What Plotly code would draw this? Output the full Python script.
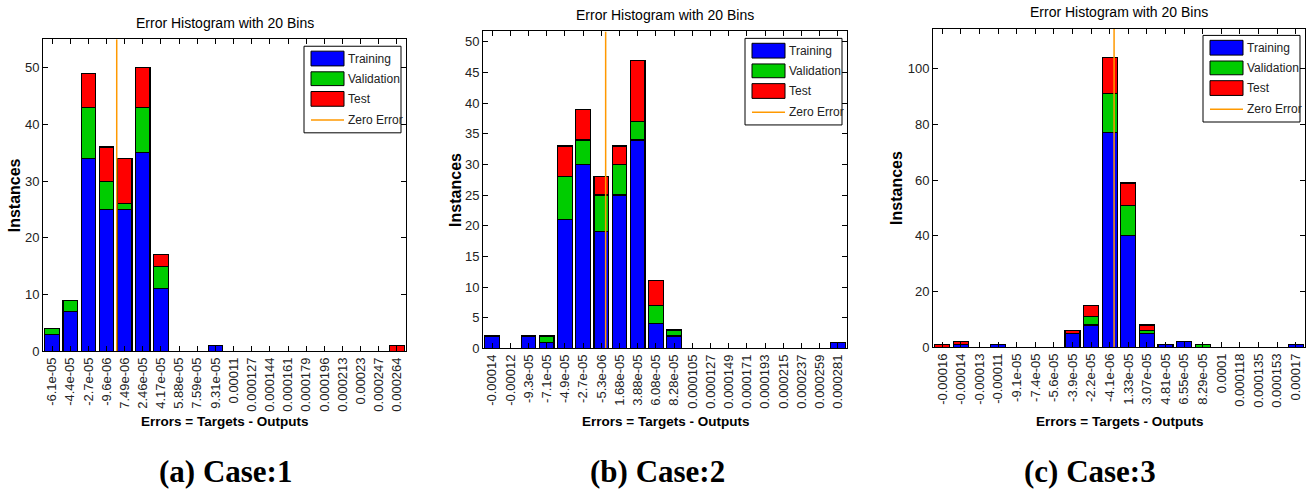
import numpy as np
import plotly.graph_objects as go

W, H = 1309, 496

# ---- data: bin centres (as printed) and per-bin instance counts ----
case1_labels = ["-6.1e-05", "-4.4e-05", "-2.7e-05", "-9.6e-06", "7.49e-06", "2.46e-05",
                "4.17e-05", "5.88e-05", "7.59e-05", "9.31e-05", "0.00011", "0.000127",
                "0.000144", "0.000161", "0.000179", "0.000196", "0.000213", "0.00023",
                "0.000247", "0.000264"]
case1_training = [3, 7, 34, 25, 25, 35, 11, 0, 0, 1, 0, 0, 0, 0, 0, 0, 0, 0, 0, 0]
case1_validation = [1, 2, 9, 5, 1, 8, 4, 0, 0, 0, 0, 0, 0, 0, 0, 0, 0, 0, 0, 0]
case1_test = [0, 0, 6, 6, 8, 7, 2, 0, 0, 0, 0, 0, 0, 0, 0, 0, 0, 0, 0, 1]

case2_labels = ["-0.00014", "-0.00012", "-9.3e-05", "-7.1e-05", "-4.9e-05", "-2.7e-05",
                "-5.3e-06", "1.68e-05", "3.88e-05", "6.08e-05", "8.28e-05", "0.000105",
                "0.000127", "0.000149", "0.000171", "0.000193", "0.000215", "0.000237",
                "0.000259", "0.000281"]
case2_training = [2, 0, 2, 1, 21, 30, 19, 25, 34, 4, 2, 0, 0, 0, 0, 0, 0, 0, 0, 1]
case2_validation = [0, 0, 0, 1, 7, 4, 6, 5, 3, 3, 1, 0, 0, 0, 0, 0, 0, 0, 0, 0]
case2_test = [0, 0, 0, 0, 5, 5, 3, 3, 10, 4, 0, 0, 0, 0, 0, 0, 0, 0, 0, 0]

case3_labels = ["-0.00016", "-0.00014", "-0.00013", "-0.00011", "-9.1e-05", "-7.4e-05",
                "-5.6e-05", "-3.9e-05", "-2.2e-05", "-4.1e-06", "1.33e-05", "3.07e-05",
                "4.81e-05", "6.55e-05", "8.29e-05", "0.0001", "0.000118", "0.000135",
                "0.000153", "0.00017"]
case3_training = [0, 1, 0, 1, 0, 0, 0, 5, 8, 77, 40, 5, 1, 2, 0, 0, 0, 0, 0, 1]
case3_validation = [0, 0, 0, 0, 0, 0, 0, 0, 3, 14, 11, 1, 0, 0, 1, 0, 0, 0, 0, 0]
case3_test = [1, 1, 0, 0, 0, 0, 0, 1, 4, 13, 8, 2, 0, 0, 0, 0, 0, 0, 0, 0]

captions = ["(a) Case:1", "(b) Case:2", "(c) Case:3"]
y_dticks = [10, 5, 20]

series_names = ["Training", "Validation", "Test"]
series_colors = ["#0000FF", "#00CC00", "#FF0000"]
zero_color = "#FF9900"

# ---- panel geometry in pixels ----
panel_x = [(43, 406), (483, 847), (933, 1305)]
panel_y = [(40, 357), (32, 354), (29, 353)]
ylabel_x = [14, 456, 897]
caption_x = [225, 657, 1090]

SANS = "Liberation Sans, Arial, sans-serif"
SERIF = "Liberation Serif, Times New Roman, serif"


def px(x):
    return x / W


def py(y):
    return 1 - y / H


cases = [
    (case1_labels, case1_training, case1_validation, case1_test),
    (case2_labels, case2_training, case2_validation, case2_test),
    (case3_labels, case3_training, case3_validation, case3_test),
]

fig = go.Figure()
shapes = []
annotations = []
layout_axes = {}

for k, (labels, tr, va, te) in enumerate(cases):
    sfx = "" if k == 0 else str(k + 1)
    xa, ya = "x" + sfx, "y" + sfx
    idx = list(range(len(labels)))
    totals = [a + b + c for a, b, c in zip(tr, va, te)]
    ymax = 1.1 * max(totals)

    for name, vals, col in zip(series_names, (tr, va, te), series_colors):
        fig.add_trace(go.Bar(
            x=idx, y=[v if v else None for v in vals], name=name,
            marker=dict(color=col, line=dict(color="black", width=1.2)),
            width=0.8, xaxis=xa, yaxis=ya, showlegend=False,
        ))

    # zero-error position along the bin index axis
    centres = [float(s) for s in labels]
    zero_pos = float(np.interp(0.0, centres, idx))
    fig.add_trace(go.Scatter(
        x=[zero_pos, zero_pos], y=[0, ymax], mode="lines",
        line=dict(color=zero_color, width=1.5), name="Zero Error",
        xaxis=xa, yaxis=ya, showlegend=False,
    ))

    x0, x1 = panel_x[k]
    y0, y1 = panel_y[k]
    layout_axes["xaxis" + sfx] = dict(
        domain=[px(x0), px(x1)], anchor=ya, range=[-0.5, len(labels) - 0.5],
        tickmode="array", tickvals=idx, ticktext=labels, tickangle=-90,
        ticks="inside", ticklen=5, tickcolor="black", showline=True,
        linecolor="black", linewidth=1, mirror="allticks", showgrid=False,
        zeroline=False, tickfont=dict(family=SANS, size=13, color="#222"),
    )
    layout_axes["yaxis" + sfx] = dict(
        domain=[py(y1), py(y0)], anchor=xa, range=[0, ymax], dtick=y_dticks[k],
        ticks="inside", ticklen=5, tickcolor="black", showline=True,
        linecolor="black", linewidth=1, mirror="allticks", showgrid=False,
        zeroline=False, tickfont=dict(family=SANS, size=13, color="#222"),
    )

    cx = (x0 + x1) / 2
    annotations.append(dict(
        text="Error Histogram with 20 Bins", x=px(cx), y=py(y0 - 17),
        xref="paper", yref="paper", showarrow=False, xanchor="center",
        yanchor="middle", font=dict(family=SANS, size=14, color="black"),
    ))
    annotations.append(dict(
        text="<b>Instances</b>", x=px(ylabel_x[k]), y=py((y0 + y1) / 2),
        xref="paper", yref="paper", showarrow=False, textangle=-90,
        xanchor="center", yanchor="middle",
        font=dict(family=SANS, size=16, color="black"),
    ))
    annotations.append(dict(
        text="<b>Errors = Targets - Outputs</b>", x=px(cx), y=py(428),
        xref="paper", yref="paper", showarrow=False, xanchor="center",
        yanchor="middle", font=dict(family=SANS, size=13.5, color="black"),
    ))
    annotations.append(dict(
        text="<b>" + captions[k] + "</b>", x=px(caption_x[k]), y=py(479),
        xref="paper", yref="paper", showarrow=False, xanchor="center",
        yanchor="middle", font=dict(family=SERIF, size=31, color="black"),
    ))

    # legend box in the upper-right corner of each panel
    bw, bh = 97, 88
    bx1 = x1 - 5
    bx0 = bx1 - bw
    by0 = y0 + 7
    by1 = by0 + bh
    shapes.append(dict(type="rect", xref="paper", yref="paper",
                       x0=px(bx0), x1=px(bx1), y0=py(by1), y1=py(by0),
                       line=dict(color="black", width=1), fillcolor="white",
                       layer="above"))
    rows = [(5, 20), (26, 40), (46, 61)]
    for (r0, r1), name, col in zip(rows, series_names, series_colors):
        shapes.append(dict(type="rect", xref="paper", yref="paper",
                           x0=px(bx0 + 7), x1=px(bx0 + 40),
                           y0=py(by0 + r1), y1=py(by0 + r0),
                           line=dict(color="black", width=1), fillcolor=col,
                           layer="above"))
        annotations.append(dict(
            text=name, x=px(bx0 + 42), y=py(by0 + (r0 + r1) / 2),
            xref="paper", yref="paper", showarrow=False, xanchor="left",
            yanchor="middle", font=dict(family=SANS, size=12, color="#222"),
        ))
    shapes.append(dict(type="line", xref="paper", yref="paper",
                       x0=px(bx0 + 7), x1=px(bx0 + 40),
                       y0=py(by0 + 75), y1=py(by0 + 75),
                       line=dict(color=zero_color, width=1.5), layer="above"))
    annotations.append(dict(
        text="Zero Error", x=px(bx0 + 42), y=py(by0 + 75),
        xref="paper", yref="paper", showarrow=False, xanchor="left",
        yanchor="middle", font=dict(family=SANS, size=12, color="#222"),
    ))

fig.update_layout(
    width=W, height=H, margin=dict(l=0, r=0, t=0, b=0),
    paper_bgcolor="white", plot_bgcolor="white",
    barmode="stack", bargap=0.2, showlegend=False,
    shapes=shapes, annotations=annotations, **layout_axes,
)

fig.write_html("out.html")
